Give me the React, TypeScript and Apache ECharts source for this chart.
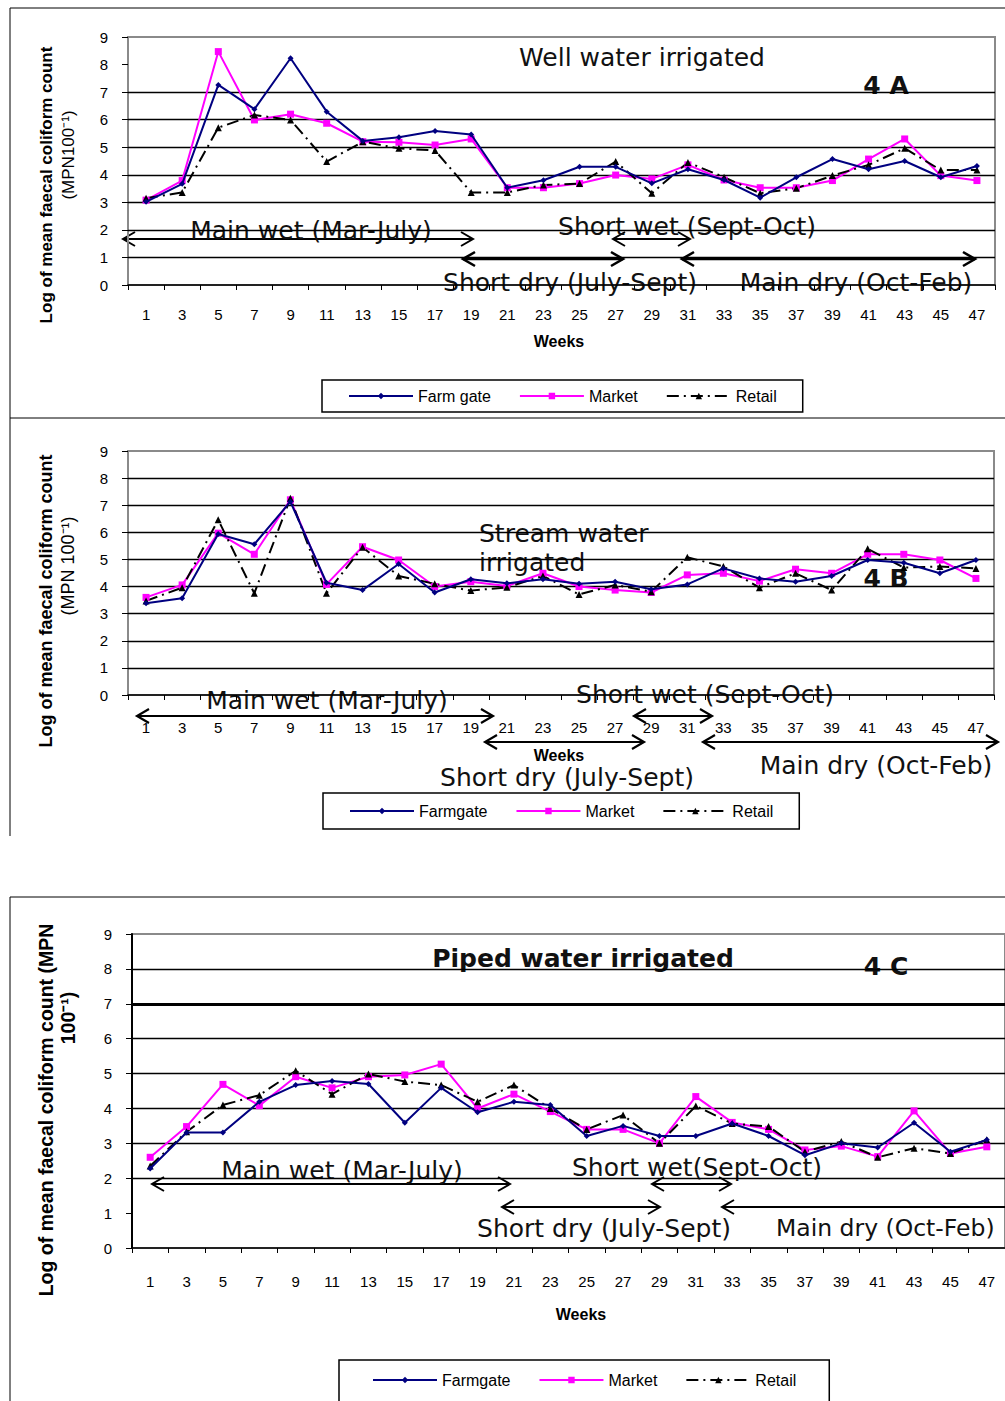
import React, { useEffect, useRef } from "react";
import * as echarts from "echarts";

// Sampling weeks (every second week)
const weeks = ["1", "3", "5", "7", "9", "11", "13", "15", "17", "19", "21", "23", "25", "27", "29", "31", "33", "35", "37", "39", "41", "43", "45", "47"];
const yTicks = [0, 1, 2, 3, 4, 5, 6, 7, 8, 9];

// 4 A — well water irrigated
const wellFarmGate = [3.02, 3.67, 7.26, 6.38, 8.23, 6.29, 5.23, 5.36, 5.59, 5.46, 3.53, 3.8, 4.29, 4.29, 3.69, 4.2, 3.81, 3.17, 3.91, 4.57, 4.2, 4.5, 3.91, 4.32];
const wellMarket = [3.08, 3.79, 8.47, 5.99, 6.2, 5.87, 5.2, 5.18, 5.08, 5.3, 3.53, 3.53, 3.68, 3.99, 3.85, 4.36, 3.81, 3.53, 3.53, 3.79, 4.57, 5.3, 3.97, 3.79];
const wellRetail = [3.15, 3.36, 5.71, 6.17, 5.99, 4.48, 5.2, 4.96, 4.88, 3.36, 3.36, 3.63, 3.68, 4.48, 3.33, 4.45, 3.91, 3.33, 3.51, 3.97, 4.36, 4.96, 4.17, 4.17];

// 4 B — stream water irrigated
const streamFarmGate = [3.38, 3.57, 5.94, 5.56, 7.13, 4.14, 3.87, 4.83, 3.78, 4.27, 4.12, 4.27, 4.1, 4.18, 3.9, 4.08, 4.67, 4.3, 4.18, 4.39, 4.98, 4.88, 4.49, 4.98];
const streamMarket = [3.6, 4.06, 5.97, 5.19, 7.2, 4.08, 5.47, 4.98, 4.0, 4.18, 4.02, 4.49, 4.0, 3.87, 3.78, 4.43, 4.49, 4.2, 4.64, 4.49, 5.19, 5.19, 4.98, 4.3];
const streamRetail = [3.47, 3.96, 6.46, 3.75, 7.26, 3.75, 5.45, 4.39, 4.1, 3.85, 3.97, 4.39, 3.71, 4.06, 3.81, 5.08, 4.74, 3.96, 4.49, 3.87, 5.39, 4.7, 4.74, 4.67];

// 4 C — piped water irrigated
const pipedFarmGate = [2.28, 3.31, 3.31, 4.19, 4.67, 4.79, 4.7, 3.59, 4.59, 3.89, 4.19, 4.1, 3.21, 3.5, 3.21, 3.21, 3.57, 3.21, 2.66, 3.0, 2.88, 3.59, 2.76, 3.1];
const pipedMarket = [2.6, 3.48, 4.69, 4.08, 4.91, 4.59, 4.91, 4.96, 5.27, 4.0, 4.41, 3.91, 3.4, 3.4, 3.0, 4.34, 3.6, 3.4, 2.81, 2.92, 2.62, 3.93, 2.71, 2.9];
const pipedRetail = [2.35, 3.33, 4.1, 4.38, 5.08, 4.41, 4.99, 4.77, 4.67, 4.19, 4.67, 4.0, 3.4, 3.81, 3.0, 4.07, 3.57, 3.48, 2.76, 3.05, 2.6, 2.86, 2.71, 3.1];

const NAVY = "#000080";
const MAGENTA = "#ff00ff";
const BLACK = "#000000";
const TICK_FONT = '"Liberation Sans Narrow", "Liberation Sans", Arial, sans-serif';
const LABEL_FONT = '"Liberation Sans", Arial, sans-serif';
const NOTE_FONT = '"DejaVu Sans", Verdana, sans-serif';

type Panel = {
  grid: { left: number; top: number; width: number; height: number };
  gridLines: number[];
  thickLine?: number;
  leftAxisColor: string;
  labelMargin: number;
  names: [string, string, string];
  values: [number[], number[], number[]];
  legend: { left: number; top: number; padding: number[]; itemGap: number };
};

const panels: Panel[] = [
  {
    grid: { left: 128, top: 37, width: 867, height: 248 },
    gridLines: [1, 2, 3, 4, 5, 6, 7],
    leftAxisColor: "#8a8a8a",
    labelMargin: 22,
    names: ["Farm gate", "Market", "Retail"],
    values: [wellFarmGate, wellMarket, wellRetail],
    legend: { left: 322, top: 380, padding: [8, 26, 8, 26], itemGap: 28 },
  },
  {
    grid: { left: 128, top: 451, width: 866, height: 244 },
    gridLines: [1, 2, 3, 4, 5, 6, 7, 8],
    leftAxisColor: "#8a8a8a",
    labelMargin: 25,
    names: ["Farmgate", "Market", "Retail"],
    values: [streamFarmGate, streamMarket, streamRetail],
    legend: { left: 323, top: 793, padding: [10, 26, 10, 26], itemGap: 28 },
  },
  {
    grid: { left: 132, top: 934, width: 904, height: 314 },
    gridLines: [2, 3, 4, 5, 6, 7, 8],
    thickLine: 7,
    leftAxisColor: BLACK,
    labelMargin: 26,
    names: ["Farmgate", "Market", "Retail"],
    values: [pipedFarmGate, pipedMarket, pipedRetail],
    legend: { left: 339, top: 1360, padding: [12, 33, 14, 33], itemGap: 28 },
  },
];

// Season arrows: [x1, x2, y, lineWidth]
const arrowsA: number[][] = [[123, 473, 239, 2], [613, 690, 239, 2], [463, 623, 259, 2.6], [682, 975, 259, 2.6]];
const arrowsB: number[][] = [[137, 493, 716, 2.2], [634, 712, 716, 2.2], [485, 644, 742, 2.2], [703, 998, 742, 2.2]];
const arrowsC: number[][] = [[152, 510, 1184, 2], [652, 731, 1184, 2], [502, 660, 1207, 2], [722, 1040, 1207, 2]];

function arrow([x1, x2, y, w]: number[]) {
  const head = 12;
  const spread = 7;
  const style = { stroke: BLACK, lineWidth: w, fill: null as any };
  return [
    { type: "line", silent: true, shape: { x1, y1: y, x2, y2: y }, style },
    { type: "polyline", silent: true, shape: { points: [[x1 + head, y - spread], [x1, y], [x1 + head, y + spread]] }, style },
    { type: "polyline", silent: true, shape: { points: [[x2 - head, y - spread], [x2, y], [x2 - head, y + spread]] }, style },
  ];
}

function note(text: string, x: number, y: number, opts: any = {}) {
  return {
    type: "text",
    silent: true,
    x,
    y,
    style: {
      text,
      fontFamily: NOTE_FONT,
      fontSize: 25,
      fontWeight: "normal",
      fill: "#111",
      align: "center",
      verticalAlign: "middle",
      ...opts,
    },
  };
}

function yTitle(text: string, x: number, y: number, bold: boolean, size: number) {
  return {
    type: "text",
    silent: true,
    x,
    y,
    rotation: Math.PI / 2,
    style: {
      text,
      fontFamily: LABEL_FONT,
      fontSize: size,
      fontWeight: bold ? "bold" : "normal",
      fill: BLACK,
      align: "center",
      verticalAlign: "middle",
    },
  };
}

const weeksTitle = { fontFamily: LABEL_FONT, fontSize: 16, fontWeight: "bold", fill: BLACK };

function buildOption() {
  const grid = panels.map((p) => ({
    ...p.grid,
    show: true,
    borderColor: "#8a8a8a",
    borderWidth: 2,
    backgroundColor: "transparent",
    containLabel: false,
  }));

  const xAxis = panels.map((p, i) => ({
    type: "category",
    gridIndex: i,
    data: weeks,
    boundaryGap: true,
    axisLine: { show: true, lineStyle: { color: BLACK, width: 1.5 } },
    axisTick: { show: true, inside: false, length: 5, interval: 0, lineStyle: { color: BLACK } },
    axisLabel: { interval: 0, margin: p.labelMargin, fontFamily: TICK_FONT, fontSize: 15, color: BLACK },
    splitLine: { show: false },
  }));

  const yAxis = panels.map((p, i) => ({
    type: "value",
    gridIndex: i,
    min: 0,
    max: 9,
    interval: 1,
    axisLine: { show: true, lineStyle: { color: p.leftAxisColor, width: 2 } },
    axisTick: { show: true, inside: false, length: 6, lineStyle: { color: BLACK } },
    axisLabel: { margin: 20, fontFamily: TICK_FONT, fontSize: 15, color: BLACK, formatter: (v: number) => (yTicks.includes(v) ? String(v) : "") },
    splitLine: { show: false },
  }));

  const series: any[] = [];
  panels.forEach((p, i) => {
    // horizontal gridlines
    series.push({
      type: "line",
      name: "grid" + i,
      xAxisIndex: i,
      yAxisIndex: i,
      data: weeks.map(() => null),
      silent: true,
      z: 1,
      showSymbol: false,
      markLine: {
        silent: true,
        z: 1,
        symbol: ["none", "none"],
        label: { show: false },
        emphasis: { disabled: true },
        lineStyle: { color: BLACK, width: 1.3, type: "solid" },
        data: p.gridLines.map((v) => ({
          yAxis: v,
          lineStyle: { color: BLACK, width: v === p.thickLine ? 3 : 1.3, type: "solid" },
        })),
      },
    });
    series.push({
      type: "line",
      name: p.names[0],
      xAxisIndex: i,
      yAxisIndex: i,
      data: p.values[0],
      z: 4,
      symbol: "diamond",
      symbolSize: 6,
      lineStyle: { color: NAVY, width: 2 },
      itemStyle: { color: NAVY },
    });
    series.push({
      type: "line",
      name: p.names[1],
      xAxisIndex: i,
      yAxisIndex: i,
      data: p.values[1],
      z: 3,
      symbol: "rect",
      symbolSize: 7,
      lineStyle: { color: MAGENTA, width: 2 },
      itemStyle: { color: MAGENTA },
    });
    series.push({
      type: "line",
      name: p.names[2],
      xAxisIndex: i,
      yAxisIndex: i,
      data: p.values[2],
      z: 3,
      symbol: "triangle",
      symbolSize: 7,
      lineStyle: { color: BLACK, width: 2, type: [12, 5, 2, 5] },
      itemStyle: { color: BLACK },
    });
  });

  const legend = panels.map((p) => ({
    data: p.names,
    orient: "horizontal",
    left: p.legend.left,
    top: p.legend.top,
    padding: p.legend.padding,
    itemGap: p.legend.itemGap,
    itemWidth: 64,
    itemHeight: 8,
    borderColor: BLACK,
    borderWidth: 1.5,
    backgroundColor: "#fff",
    selectedMode: false,
    textStyle: { fontFamily: LABEL_FONT, fontSize: 16, color: BLACK },
  }));

  const frames = [
    { type: "rect", silent: true, shape: { x: 10, y: 8, width: 1010, height: 410 }, style: { stroke: BLACK, lineWidth: 1, fill: null } },
    { type: "line", silent: true, shape: { x1: 10, y1: 418, x2: 10, y2: 836 }, style: { stroke: BLACK, lineWidth: 1 } },
    { type: "rect", silent: true, shape: { x: 10, y: 897, width: 1010, height: 520 }, style: { stroke: BLACK, lineWidth: 1, fill: null } },
  ];

  const texts = [
    // 4 A
    note("Well water irrigated", 642, 57),
    note("4 A", 886, 85, { fontWeight: "bold" }),
    note("Main wet (Mar-July)", 311, 230),
    note("Short wet (Sept-Oct)", 687, 226),
    note("Short dry (July-Sept)", 570, 282),
    note("Main dry (Oct-Feb)", 856, 282),
    note("Weeks", 559, 341, weeksTitle),
    yTitle("Log of mean faecal coliform count", 46, 185, true, 17),
    yTitle("(MPN100\u207B\u00B9)", 68, 155, false, 17),
    // 4 B
    note("Stream water", 479, 533, { align: "left" }),
    note("irrigated", 479, 562, { align: "left" }),
    note("4 B", 886, 578, { fontWeight: "bold" }),
    note("Main wet (Mar-July)", 327, 700),
    note("Short wet (Sept-Oct)", 705, 694),
    note("Short dry (July-Sept)", 567, 777),
    note("Main dry (Oct-Feb)", 876, 765),
    note("Weeks", 559, 755, weeksTitle),
    yTitle("Log of mean faecal coliform count", 46, 601, true, 18),
    yTitle("(MPN 100\u207B\u00B9)", 68, 566, false, 18),
    // 4 C
    note("Piped water irrigated", 583, 958, { fontWeight: "bold" }),
    note("4 C", 886, 966, { fontWeight: "bold" }),
    note("Main wet (Mar-July)", 342, 1170),
    note("Short wet(Sept-Oct)", 697, 1167),
    note("Short dry (July-Sept)", 604, 1228),
    note("Main dry (Oct-Feb)", 776, 1228, { align: "left", fontSize: 23.5 }),
    note("Weeks", 581, 1314, weeksTitle),
    yTitle("Log of mean faecal coliform count (MPN", 46, 1110, true, 19.5),
    yTitle("100\u207B\u00B9)", 68, 1018, true, 19.5),
  ];

  const graphic = [
    ...frames,
    ...arrowsA.flatMap(arrow),
    ...arrowsB.flatMap(arrow),
    ...arrowsC.flatMap(arrow),
    ...texts,
  ];

  return {
    animation: false,
    backgroundColor: "#fff",
    grid,
    xAxis,
    yAxis,
    series,
    legend,
    graphic,
  };
}

export default function App() {
  const ref = useRef<HTMLDivElement>(null);
  useEffect(() => {
    if (!ref.current) return;
    const chart = echarts.init(ref.current, undefined, { renderer: "svg" });
    chart.setOption(buildOption() as any);
    return () => chart.dispose();
  }, []);
  return (
    <div
      ref={ref}
      style={{ position: "absolute", left: 0, top: 0, width: 1005, height: 1401, background: "#fff" }}
    />
  );
}
